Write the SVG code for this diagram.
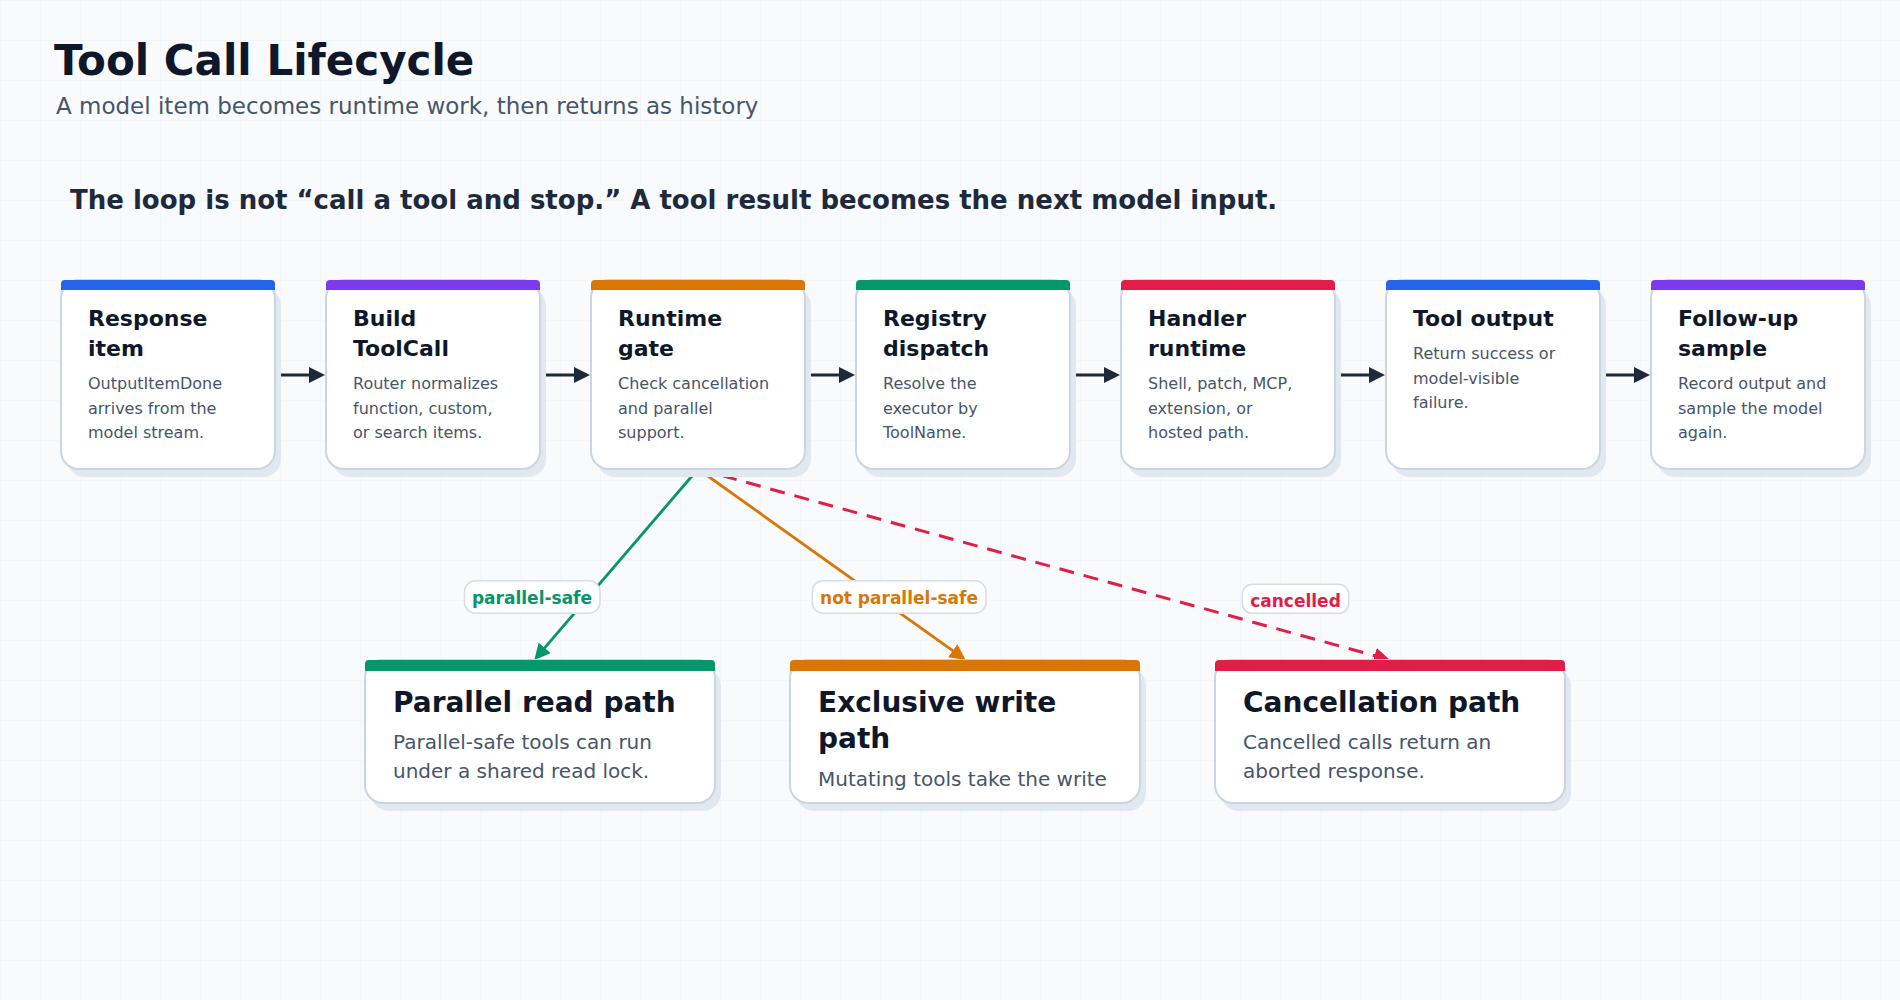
<svg xmlns="http://www.w3.org/2000/svg" width="1900" height="1000" viewBox="0 0 1900 1000">
<defs>
<pattern id="grid" width="40" height="40" patternUnits="userSpaceOnUse">
<path d="M40 0 H0 V40" fill="none" stroke="#edf1f6" stroke-width="1"/>
</pattern>
<marker id="ah-dark" viewBox="0 0 16 16" refX="6" refY="8" markerWidth="16" markerHeight="16" markerUnits="userSpaceOnUse" orient="auto"><path d="M0 0 L16 8 L0 16 Z" fill="#1e293b"/></marker>
<marker id="ah-green" viewBox="0 0 16 16" refX="6" refY="8" markerWidth="16" markerHeight="16" markerUnits="userSpaceOnUse" orient="auto"><path d="M0 0 L16 8 L0 16 Z" fill="#059669"/></marker>
<marker id="ah-orange" viewBox="0 0 16 16" refX="6" refY="8" markerWidth="16" markerHeight="16" markerUnits="userSpaceOnUse" orient="auto"><path d="M0 0 L16 8 L0 16 Z" fill="#d97706"/></marker>
<marker id="ah-red" viewBox="0 0 16 16" refX="6" refY="8" markerWidth="16" markerHeight="16" markerUnits="userSpaceOnUse" orient="auto"><path d="M0 0 L16 8 L0 16 Z" fill="#e11d48"/></marker>
</defs>
<style>
text { font-family: "DejaVu Sans", "Noto Sans", sans-serif; }
.title { font-size: 42px; font-weight: 700; fill: #0f172a; }
.subtitle { font-size: 23px; fill: #475569; }
.headline { font-size: 26px; font-weight: 700; fill: #1e293b; }
.shadow { fill: #e2e8f0; }
.card { fill: #ffffff; stroke: #cbd5e1; stroke-width: 2; }
.ntitle { font-size: 22px; font-weight: 700; fill: #0f172a; }
.ndesc { font-size: 16px; fill: #475569; }
.btitle { font-size: 28px; font-weight: 700; fill: #0f172a; }
.bdesc { font-size: 20px; fill: #475569; }
.flow { stroke: #1e293b; stroke-width: 3; fill: none; marker-end: url(#ah-dark); }
.pill { fill: #ffffff; stroke: #d5dde8; stroke-width: 1.5; }
.lbl { font-size: 17px; font-weight: 700; text-anchor: middle; }
</style>
<rect width="1900" height="1000" fill="#f8fafc"/>
<rect width="1900" height="1000" fill="url(#grid)"/>

<text class="title" x="54" y="75">Tool Call Lifecycle</text>
<text class="subtitle" x="56" y="114">A model item becomes runtime work, then returns as history</text>
<text class="headline" x="70" y="209">The loop is not “call a tool and stop.” A tool result becomes the next model input.</text>

<g id="connectors">
<line class="flow" x1="281" y1="375" x2="315" y2="375"/>
<line class="flow" x1="546" y1="375" x2="580" y2="375"/>
<line class="flow" x1="811" y1="375" x2="845" y2="375"/>
<line class="flow" x1="1076" y1="375" x2="1110" y2="375"/>
<line class="flow" x1="1341" y1="375" x2="1375" y2="375"/>
<line class="flow" x1="1606" y1="375" x2="1640" y2="375"/>
<line x1="698" y1="469" x2="540.8" y2="652.4" stroke="#059669" stroke-width="2.8" marker-end="url(#ah-green)"/>
<line x1="698" y1="469" x2="957.6" y2="654.2" stroke="#d97706" stroke-width="2.8" marker-end="url(#ah-orange)"/>
<line x1="698" y1="469" x2="1380.4" y2="657.3" stroke="#e11d48" stroke-width="3" stroke-dasharray="15 10" marker-end="url(#ah-red)"/>
<g id="label-parallel-safe">
<rect class="pill" x="464.5" y="580.7" width="135.5" height="32.6" rx="11"/>
<text class="lbl" x="532" y="604" fill="#059669">parallel-safe</text>
</g>
<g id="label-not-parallel-safe">
<rect class="pill" x="812.3" y="580.7" width="173.7" height="32.6" rx="11"/>
<text class="lbl" x="899" y="604" fill="#d97706">not parallel-safe</text>
</g>
<g id="label-cancelled">
<rect class="pill" x="1242.3" y="584.3" width="106.4" height="29" rx="10"/>
<text class="lbl" x="1295.5" y="606.5" fill="#e11d48">cancelled</text>
</g>
</g>

<g id="node-response-item">
<rect class="shadow" x="67" y="288" width="214" height="189" rx="18"/>
<rect class="card" x="61" y="280" width="214" height="189" rx="18"/>
<path d="M61 290 V284 Q61 280 65 280 H271 Q275 280 275 284 V290 Z" fill="#2563eb"/>
<text class="ntitle" x="88" y="326">Response</text>
<text class="ntitle" x="88" y="356">item</text>
<text class="ndesc" x="88" y="389">OutputItemDone</text>
<text class="ndesc" x="88" y="413.5">arrives from the</text>
<text class="ndesc" x="88" y="438">model stream.</text>
</g>

<g id="node-build-toolcall">
<rect class="shadow" x="332" y="288" width="214" height="189" rx="18"/>
<rect class="card" x="326" y="280" width="214" height="189" rx="18"/>
<path d="M326 290 V284 Q326 280 330 280 H536 Q540 280 540 284 V290 Z" fill="#7c3aed"/>
<text class="ntitle" x="353" y="326">Build</text>
<text class="ntitle" x="353" y="356">ToolCall</text>
<text class="ndesc" x="353" y="389">Router normalizes</text>
<text class="ndesc" x="353" y="413.5">function, custom,</text>
<text class="ndesc" x="353" y="438">or search items.</text>
</g>

<g id="node-runtime-gate">
<rect class="shadow" x="597" y="288" width="214" height="189" rx="18"/>
<rect class="card" x="591" y="280" width="214" height="189" rx="18"/>
<path d="M591 290 V284 Q591 280 595 280 H801 Q805 280 805 284 V290 Z" fill="#d97706"/>
<text class="ntitle" x="618" y="326">Runtime</text>
<text class="ntitle" x="618" y="356">gate</text>
<text class="ndesc" x="618" y="389">Check cancellation</text>
<text class="ndesc" x="618" y="413.5">and parallel</text>
<text class="ndesc" x="618" y="438">support.</text>
</g>

<g id="node-registry-dispatch">
<rect class="shadow" x="862" y="288" width="214" height="189" rx="18"/>
<rect class="card" x="856" y="280" width="214" height="189" rx="18"/>
<path d="M856 290 V284 Q856 280 860 280 H1066 Q1070 280 1070 284 V290 Z" fill="#059669"/>
<text class="ntitle" x="883" y="326">Registry</text>
<text class="ntitle" x="883" y="356">dispatch</text>
<text class="ndesc" x="883" y="389">Resolve the</text>
<text class="ndesc" x="883" y="413.5">executor by</text>
<text class="ndesc" x="883" y="438">ToolName.</text>
</g>

<g id="node-handler-runtime">
<rect class="shadow" x="1127" y="288" width="214" height="189" rx="18"/>
<rect class="card" x="1121" y="280" width="214" height="189" rx="18"/>
<path d="M1121 290 V284 Q1121 280 1125 280 H1331 Q1335 280 1335 284 V290 Z" fill="#e11d48"/>
<text class="ntitle" x="1148" y="326">Handler</text>
<text class="ntitle" x="1148" y="356">runtime</text>
<text class="ndesc" x="1148" y="389">Shell, patch, MCP,</text>
<text class="ndesc" x="1148" y="413.5">extension, or</text>
<text class="ndesc" x="1148" y="438">hosted path.</text>
</g>

<g id="node-tool-output">
<rect class="shadow" x="1392" y="288" width="214" height="189" rx="18"/>
<rect class="card" x="1386" y="280" width="214" height="189" rx="18"/>
<path d="M1386 290 V284 Q1386 280 1390 280 H1596 Q1600 280 1600 284 V290 Z" fill="#2563eb"/>
<text class="ntitle" x="1413" y="326">Tool output</text>
<text class="ndesc" x="1413" y="359">Return success or</text>
<text class="ndesc" x="1413" y="383.5">model-visible</text>
<text class="ndesc" x="1413" y="408">failure.</text>
</g>

<g id="node-follow-up-sample">
<rect class="shadow" x="1657" y="288" width="214" height="189" rx="18"/>
<rect class="card" x="1651" y="280" width="214" height="189" rx="18"/>
<path d="M1651 290 V284 Q1651 280 1655 280 H1861 Q1865 280 1865 284 V290 Z" fill="#7c3aed"/>
<text class="ntitle" x="1678" y="326">Follow-up</text>
<text class="ntitle" x="1678" y="356">sample</text>
<text class="ndesc" x="1678" y="389">Record output and</text>
<text class="ndesc" x="1678" y="413.5">sample the model</text>
<text class="ndesc" x="1678" y="438">again.</text>
</g>

<g id="node-parallel-read-path">
<rect class="shadow" x="371" y="668" width="350" height="143" rx="18"/>
<rect class="card" x="365" y="660" width="350" height="143" rx="18"/>
<path d="M365 671 V664 Q365 660 369 660 H711 Q715 660 715 664 V671 Z" fill="#059669"/>
<text class="btitle" x="393" y="712">Parallel read path</text>
<text class="bdesc" x="393" y="749">Parallel-safe tools can run</text>
<text class="bdesc" x="393" y="778">under a shared read lock.</text>
</g>

<g id="node-exclusive-write-path">
<rect class="shadow" x="796" y="668" width="350" height="143" rx="18"/>
<rect class="card" x="790" y="660" width="350" height="143" rx="18"/>
<path d="M790 671 V664 Q790 660 794 660 H1136 Q1140 660 1140 664 V671 Z" fill="#d97706"/>
<text class="btitle" x="818" y="712">Exclusive write</text>
<text class="btitle" x="818" y="748">path</text>
<text class="bdesc" x="818" y="785.5">Mutating tools take the write</text>
</g>

<g id="node-cancellation-path">
<rect class="shadow" x="1221" y="668" width="350" height="143" rx="18"/>
<rect class="card" x="1215" y="660" width="350" height="143" rx="18"/>
<path d="M1215 671 V664 Q1215 660 1219 660 H1561 Q1565 660 1565 664 V671 Z" fill="#e11d48"/>
<text class="btitle" x="1243" y="712">Cancellation path</text>
<text class="bdesc" x="1243" y="749">Cancelled calls return an</text>
<text class="bdesc" x="1243" y="778">aborted response.</text>
</g>
</svg>
